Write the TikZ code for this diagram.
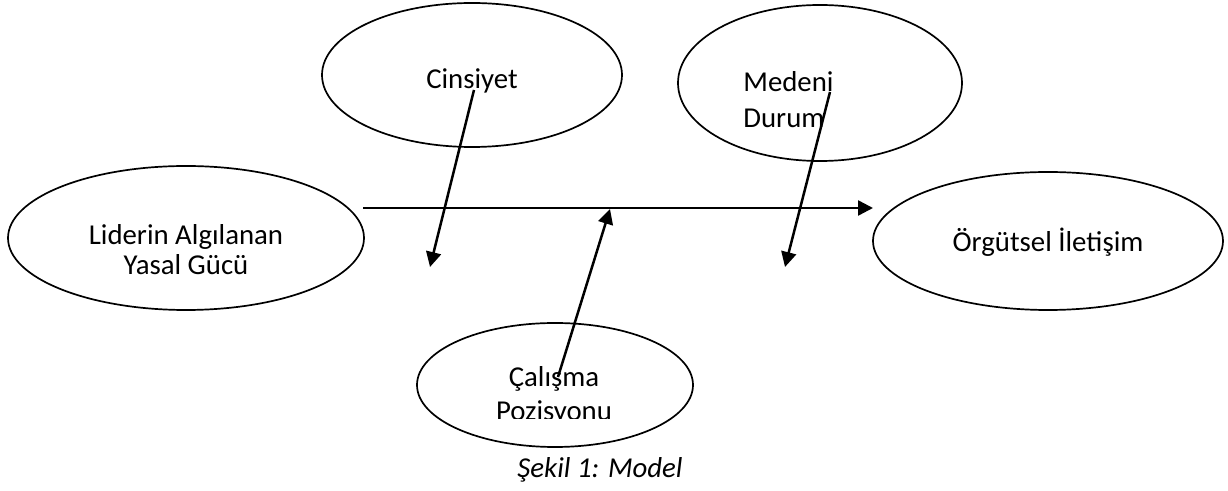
\documentclass[tikz,border=0pt]{standalone}
\usepackage{fontspec}
\setmainfont{Carlito}
\usetikzlibrary{shapes.geometric,arrows.meta}
\tikzset{
  oval/.style={ellipse, draw, line width=0.85pt, inner sep=0pt},
  lbl/.style={inner sep=0pt, font=\fontsize{14.4}{17}\selectfont},
  conn/.style={line width=1.25pt, -{Triangle[length=7.5pt,width=7.5pt]}}
}
\begin{document}
\begin{tikzpicture}[x=0.5pt,y=-0.5pt]
\useasboundingbox (0,0) rectangle (1228,491);
% ellipses
\node[oval, minimum width=178pt, minimum height=72pt] (lid) at (186,238) {};
\node[oval, minimum width=150pt, minimum height=72pt] (cin) at (472,75) {};
\node[oval, minimum width=142pt, minimum height=78pt] (med) at (820,83) {};
\node[oval, minimum width=175pt, minimum height=69pt] (org) at (1048,241) {};
\node[oval, minimum width=138pt, minimum height=62pt] (cal) at (555,385) {};
% texts
\node[lbl, anchor=base] (lid1) at (186,245) {Liderin Algılanan};
\node[lbl, anchor=base] (lid2) at (186,275) {Yasal Gücü};
\node[lbl, anchor=base] (cin1) at (472,89) {Cinsiyet};
\node[lbl, anchor=base west] (med1) at (743,92) {Medeni};
\node[lbl, anchor=base west] (med2) at (743,128) {Durum};
\node[lbl, anchor=base] (org1) at (1048,252) {Örgütsel İletişim};
\node[lbl, anchor=base] (cal1) at (554,387) {Çalışma};
\begin{scope}
\clip (0,0) rectangle (1228,419);
\node[lbl, anchor=base] (cal2) at (554,421) {Pozisyonu};
\end{scope}
\node[lbl, anchor=base] (cap) at (600,478) {\itshape Şekil 1: Model};
% connector end points
\coordinate (m1) at (363,208);
\coordinate (m2) at (873,208);
\coordinate (c1) at (474,90);
\coordinate (c2) at (430,267);
\coordinate (d1) at (830,92);
\coordinate (d2) at (785,267);
\coordinate (p1) at (558,377);
\coordinate (p2) at (610,209);
% connectors
\draw[conn] (m1) -- (m2);
\draw[conn] (c1) -- (c2);
\draw[conn] (d1) -- (d2);
\draw[conn] (p1) -- (p2);
\end{tikzpicture}
\end{document}
